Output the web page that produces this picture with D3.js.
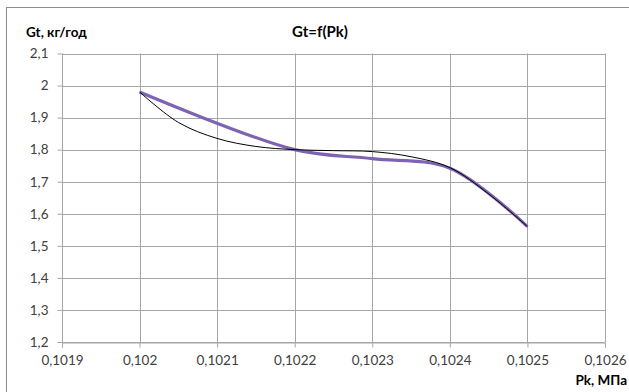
<!DOCTYPE html>
<html>
<head>
<meta charset="utf-8">
<script src="https://cdn.jsdelivr.net/npm/d3@7"></script>
<style>
  body { margin: 0; background: #fff; }
  svg { display: block; font-family: Lato, "Open Sans", sans-serif; }
</style>
</head>
<body>
<svg id="chart" width="629" height="392"></svg>
<script>
// x ticks / y ticks
var xTicks = [0.1019, 0.102, 0.1021, 0.1022, 0.1023, 0.1024, 0.1025, 0.1026];
var yTicks = [1.2, 1.3, 1.4, 1.5, 1.6, 1.7, 1.8, 1.9, 2.0, 2.1];

// purple series (thick)
var pkMain = [0.102, 0.1022, 0.1023, 0.1024, 0.1025];
var gtMain = [1.98, 1.80, 1.772, 1.742, 1.56];

// thin black series
var pkThin = [0.102, 0.10205, 0.1021, 0.10215, 0.1022, 0.10225, 0.1023, 0.10235, 0.1024, 0.10245, 0.1025];
var gtThin = [1.98, 1.885, 1.835, 1.81, 1.80, 1.797, 1.794, 1.778, 1.744, 1.662, 1.56];

var ctx = { left: 62, right: 605, top: 53.5, bottom: 342 };

var svgEl = d3.select("#chart");

// outer frame of the chart
svgEl.append("rect")
    .attr("x", 6.5).attr("y", 7.5)
    .attr("width", 700).attr("height", 500)
    .attr("fill", "none")
    .attr("stroke", "#8c8c8c");

var x = d3.scaleLinear().domain([0.1019, 0.1026]).range([ctx.left, ctx.right]);
var y = d3.scaleLinear().domain([1.2, 2.1]).range([ctx.bottom, ctx.top]);
var fmt = function(d) { return String(+d.toFixed(4)).replace(".", ","); };

// grid
svgEl.append("g").selectAll("line")
    .data(yTicks).enter().append("line")
    .attr("x1", ctx.left).attr("x2", ctx.right)
    .attr("y1", d => Math.round(y(d)) + 0.5).attr("y2", d => Math.round(y(d)) + 0.5)
    .attr("stroke", "#a6a6a6");
svgEl.append("g").selectAll("line")
    .data(xTicks).enter().append("line")
    .attr("y1", ctx.top).attr("y2", ctx.bottom)
    .attr("x1", d => Math.round(x(d)) + 0.5).attr("x2", d => Math.round(x(d)) + 0.5)
    .attr("stroke", "#a6a6a6");

// axes
var yAxis = svgEl.append("g")
    .attr("transform", "translate(" + (ctx.left + 0.5) + ",0)")
    .call(d3.axisLeft(y).tickValues(yTicks).tickFormat(fmt).tickSize(5).tickPadding(9));
var xAxis = svgEl.append("g")
    .attr("transform", "translate(0," + (Math.round(ctx.bottom) + 0.5) + ")")
    .call(d3.axisBottom(x).tickValues(xTicks).tickFormat(fmt).tickSize(5).tickPadding(8));
[yAxis, xAxis].forEach(function(a) {
    a.selectAll("path, line").attr("stroke", "#a6a6a6");
    a.selectAll("text").attr("font-size", "13.5px").attr("font-family", "Lato, sans-serif").attr("fill", "#404040");
});
yAxis.select(".domain").remove();

// lines
var line = d3.line().x(d => x(d[0])).y(d => y(d[1])).curve(d3.curveCatmullRom.alpha(0.5));

svgEl.append("path")
    .datum(d3.zip(pkMain, gtMain))
    .attr("fill", "none")
    .attr("stroke", "#7f63b3")
    .attr("stroke-width", 3.2)
    .attr("d", line);

svgEl.append("path")
    .datum(d3.zip(pkThin, gtThin))
    .attr("fill", "none")
    .attr("stroke", "#000")
    .attr("stroke-width", 1)
    .attr("d", line);

// titles
svgEl.append("text")
    .attr("x", 320).attr("y", 37)
    .attr("text-anchor", "middle")
    .attr("font-weight", "bold").attr("font-size", "15px")
    .text("Gt=f(Pk)");
svgEl.append("text")
    .attr("x", 26).attr("y", 37)
    .attr("font-weight", "bold").attr("font-size", "13.5px")
    .text("Gt, кг/год");
svgEl.append("text")
    .attr("x", 627).attr("y", 385)
    .attr("text-anchor", "end")
    .attr("font-weight", "bold").attr("font-size", "13.5px")
    .text("Pk, МПа");
</script>
</body>
</html>
